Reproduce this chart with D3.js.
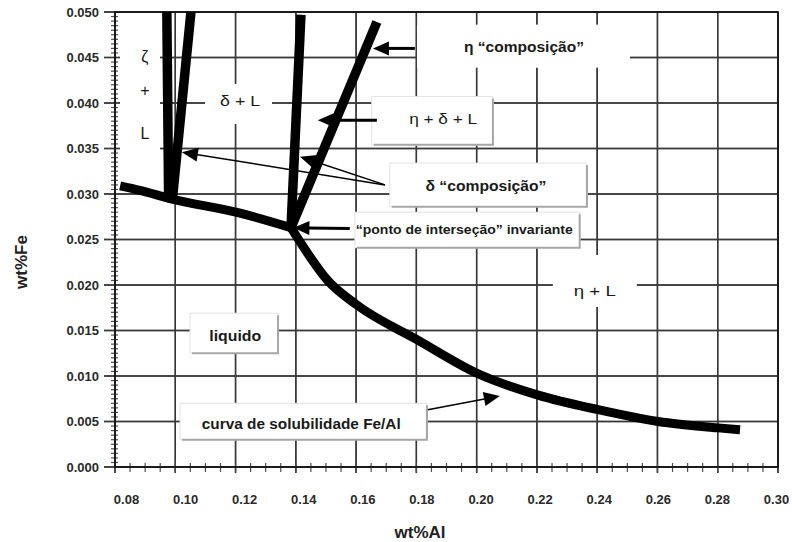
<!DOCTYPE html>
<html>
<head>
<meta charset="utf-8">
<script src="https://cdn.jsdelivr.net/npm/d3@7"></script>
<style>
body{margin:0;background:#fff}
svg{display:block;font-family:"Liberation Sans",Arial,sans-serif}
</style>
</head>
<body>
<svg width="792" height="542"></svg>
<script>
'use strict';
// values (x = wt%Al, y = wt%Fe)
let aXTicks = [0.08,0.10,0.12,0.14,0.16,0.18,0.20,0.22,0.24,0.26,0.28,0.30]
let aYTicks = [0.000,0.005,0.010,0.015,0.020,0.025,0.030,0.035,0.040,0.045,0.050]

// liquidus on the zeta / delta side, ends at the invariant point
let aLiqLeft = [[0.0817,0.0309],[0.0883,0.0304],[0.0982,0.0295],[0.1215,0.0279],[0.1384,0.0263]]
// liquidus on the eta side (Fe/Al solubility curve)
let aLiqEta = [[0.1384,0.0263],[0.1447,0.0231],[0.1503,0.0206],[0.1603,0.0178],[0.1802,0.0140],
	[0.2001,0.0103],[0.2204,0.0079],[0.2403,0.0063],[0.2602,0.0050],[0.2801,0.0043],[0.2874,0.0041]]
// phase boundaries
let aZetaA = [[0.0972,0.0500],[0.0978,0.0295]]
let aZetaB = [[0.1052,0.0500],[0.0991,0.0296]]
let aDelta = [[0.1417,0.0497],[0.1384,0.0263]]
let aEta = [[0.1669,0.0489],[0.1384,0.0263]]

let aZetaStack = ["ζ","+","L"]
let aNotes = ["δ + L","η “composição”","η + δ + L","δ “composição”",
	"“ponto de interseção” invariante","η + L","liquido","curva de solubilidade Fe/Al"]

// layout of the notes: box [x0,y0,x1,y1] and text centre, in data units
let lNotes = [
	{box:[0.1099,0.0421,0.1321,0.0377], at:[0.1215,0.0403], size:15, len:40, bold:false, shadow:false},
	{box:[0.1802,0.0486,0.2508,0.0439], at:[0.2157,0.0461], size:14, len:120, bold:true, shadow:false},
	{box:[0.1652,0.0407,0.2054,0.0354], at:[0.1889,0.0383], size:15, len:68, bold:false, shadow:true},
	{box:[0.1712,0.0334,0.2366,0.0286], at:[0.2031,0.0309], size:14, len:121, bold:true, shadow:true},
	{box:[0.1596,0.0280,0.2342,0.0241], at:[0.1959,0.0261], size:13, len:217, bold:true, shadow:true},
	{box:[0.2253,0.0233,0.2531,0.0176], at:[0.2392,0.0194], size:15, len:42, bold:false, shadow:false},
	{box:[0.1049,0.0169,0.1341,0.0125], at:[0.1199,0.0144], size:15, len:52, bold:true, shadow:true},
	{box:[0.1016,0.0070,0.1835,0.0030], at:[0.1418,0.0048], size:15, len:199, bold:true, shadow:true}]
let lZeta = {box:[0.0817,0.0497,0.0949,0.0313], x:0.0899, ys:[0.0451,0.0414,0.0367]}
let lArrows = [
	{from:[0.1795,0.0460], to:[0.1656,0.0460], w:3},
	{from:[0.1669,0.0381], to:[0.1473,0.0381], w:3},
	{from:[0.1696,0.0310], to:[0.1022,0.0346], w:1.5},
	{from:[0.1696,0.0310], to:[0.1414,0.0341], w:1.5},
	{from:[0.1579,0.0262], to:[0.1392,0.0263], w:3},
	{from:[0.1838,0.0063], to:[0.2077,0.0078], w:1.5}]

let eSvg = d3.select("svg"),
	dWidth = +eSvg.attr("width"),
	dHeight = +eSvg.attr("height")
let dM = {top:12, right:14, bottom:75, left:115}

let sX = d3.scaleLinear().domain([0.08,0.30]).range([dM.left, dWidth-dM.right])
let sY = d3.scaleLinear().domain([0,0.05]).range([dHeight-dM.bottom, dM.top])
// the tick labels drift off the grid a bit in the original
let sXLab = sX.copy().range([dM.left+11, dWidth-dM.right-2])
let dY0 = sY(0)

function rectOf(b) {
	return {x:sX(b[0]), y:sY(b[1]), w:sX(b[2])-sX(b[0]), h:sY(b[3])-sY(b[1])}}
let aBoxRects = lNotes.map(n=>n.box).concat([lZeta.box]).map(rectOf)

// grid, cut around the note boxes; major ticks cross the axes
function cutAround(a0, a1, gaps) {
	let segs = [], cur = a0
	gaps.sort((p,q)=>p[0]-q[0]).forEach(g => {
		if (g[0] > cur) segs.push([cur, Math.min(g[0], a1)])
		cur = Math.max(cur, g[1])})
	if (cur < a1) segs.push([cur, a1])
	return segs}
let aGridH = aYTicks.flatMap(v => {
	let py = sY(v)
	let gaps = aBoxRects.filter(r => r.y < py && py < r.y+r.h).map(r => [r.x, r.x+r.w])
	return cutAround(dM.left-11, dWidth-dM.right, gaps).map(s => ({x:s[0], y:py-0.7, w:s[1]-s[0], h:1.4}))})
let aGridV = aXTicks.flatMap(v => {
	let px = sX(v)
	let gaps = aBoxRects.filter(r => r.x < px && px < r.x+r.w).map(r => [r.y, r.y+r.h])
	return cutAround(dM.top, dY0+6, gaps).map(s => ({x:px-0.7, y:s[0], w:1.4, h:s[1]-s[0]}))})
let aGrid = aGridH.concat(aGridV)
// drawn as thin filled bars, with a matching stroked line on top
let eGrid = eSvg.append("g")
eGrid.selectAll("rect").data(aGrid).enter().append("rect")
	.attr("x",d=>d.x).attr("y",d=>d.y).attr("width",d=>d.w).attr("height",d=>d.h)
	.attr("fill","#383838")
eGrid.selectAll("path").data(aGrid).enter().append("path")
	.attr("d",d=> d.h > d.w
		? `M${d.x+0.7},${d.y}V${d.y+d.h}`
		: `M${d.x},${d.y+0.7}H${d.x+d.w}`)
	.attr("fill","none").attr("stroke","#383838").attr("stroke-width",1.4)

// minor ticks
let aMinorX = d3.range(0.085,0.30,0.005)
let aMinorY = d3.range(1,100).filter(i=>i%10).map(i=>i*0.0005)
let eMinor = eSvg.append("g")
eMinor.selectAll("rect.mx").data(aMinorX).enter().append("rect")
	.attr("x",d=>sX(d)-0.6).attr("y",dY0-4).attr("width",1.2).attr("height",9)
	.attr("fill","#505050")
eMinor.selectAll("rect.my").data(aMinorY).enter().append("rect")
	.attr("class","my")
	.attr("x",dM.left-4).attr("y",d=>sY(d)-0.6).attr("width",7).attr("height",1.2)
	.attr("fill","#505050")

// note boxes
eSvg.append("g").selectAll("rect").data(aBoxRects).enter().append("rect")
	.attr("x",r=>r.x).attr("y",r=>r.y).attr("width",r=>r.w).attr("height",r=>r.h)
	.attr("fill","#fff")
let eShadow = eSvg.append("g")
eShadow.selectAll("rect").data(lNotes.filter(n=>n.shadow)).enter().append("rect")
	.attr("x",n=>rectOf(n.box).x).attr("y",n=>rectOf(n.box).y)
	.attr("width",n=>rectOf(n.box).w).attr("height",n=>rectOf(n.box).h)
	.attr("fill","none").attr("stroke","#e2e2e2").attr("stroke-width",1)
eShadow.selectAll("path").data(lNotes.filter(n=>n.shadow)).enter().append("path")
	.attr("d",n=>{let r = rectOf(n.box)
		return `M${r.x+r.w},${r.y+2}V${r.y+r.h}H${r.x+2}`})
	.attr("fill","none").attr("stroke","#a6a6a6").attr("stroke-width",2)

// frame
eSvg.append("rect")
	.attr("x",dM.left).attr("y",dM.top)
	.attr("width",dWidth-dM.left-dM.right).attr("height",dY0-dM.top)
	.attr("fill","none").attr("stroke","#111").attr("stroke-width",1.6)

// curves
let fLine = d3.line().x(d=>sX(d[0])).y(d=>sY(d[1]))
let fCurve = d3.line().x(d=>sX(d[0])).y(d=>sY(d[1])).curve(d3.curveMonotoneX)
let eCurves = eSvg.append("g")
eCurves.append("path").attr("d",fCurve(aLiqLeft)).attr("stroke-linejoin","round")
eCurves.append("path").attr("d",fCurve(aLiqEta))
eCurves.selectAll("path.ph").data([aZetaA,aZetaB,aDelta,aEta]).enter().append("path")
	.attr("d",d=>fLine(d)).attr("stroke-width",9.5)
eCurves.selectAll("path").attr("fill","none").attr("stroke","#000")
	.attr("stroke-width",function() {return this.getAttribute("stroke-width") || 9})

// arrows: shaft plus a filled head whose tip sits on the target
function arrowGeom(a) {
	let x1 = sX(a.from[0]), y1 = sY(a.from[1]), x2 = sX(a.to[0]), y2 = sY(a.to[1])
	let l = Math.hypot(x2-x1, y2-y1), ux = (x2-x1)/l, uy = (y2-y1)/l
	let bx = x2-ux*16, by = y2-uy*16
	return {x1, y1, ex:bx+ux*3, ey:by+uy*3,
		head:`M${x2},${y2}L${bx-uy*7},${by+ux*7}L${bx+uy*7},${by-ux*7}Z`}}
let eArrows = eSvg.append("g")
eArrows.selectAll("line").data(lArrows).enter().append("line")
	.attr("x1",a=>arrowGeom(a).x1).attr("y1",a=>arrowGeom(a).y1)
	.attr("x2",a=>arrowGeom(a).ex).attr("y2",a=>arrowGeom(a).ey)
	.attr("stroke","#000").attr("stroke-width",a=>a.w)
eArrows.selectAll("path").data(lArrows).enter().append("path")
	.attr("d",a=>arrowGeom(a).head).attr("fill","#000")

// notes
eSvg.append("g").selectAll("text").data(aNotes).enter().append("text")
	.attr("x",(t,i)=>sX(lNotes[i].at[0])).attr("y",(t,i)=>sY(lNotes[i].at[1]))
	.attr("dy","0.35em").attr("text-anchor","middle")
	.attr("font-size",(t,i)=>lNotes[i].size)
	.attr("font-weight",(t,i)=>lNotes[i].bold ? "bold" : "normal")
	.attr("textLength",(t,i)=>lNotes[i].len).attr("lengthAdjust","spacingAndGlyphs")
	.attr("fill","#1a1a1a")
	.text(t=>t)
eSvg.append("g").selectAll("text").data(aZetaStack).enter().append("text")
	.attr("x",sX(lZeta.x)).attr("y",(t,i)=>sY(lZeta.ys[i]))
	.attr("dy","0.35em").attr("text-anchor","middle")
	.attr("font-size",16).attr("fill","#1a1a1a")
	.text(t=>t)

// axes: labels only, lines are drawn separately
let eYAxis = eSvg.append("g").attr("transform",`translate(${dM.left},0)`)
	.call(d3.axisLeft(sY).tickValues(aYTicks).tickFormat(d3.format(".3f")).tickSize(0).tickPadding(16))
let eXAxis = eSvg.append("g").attr("transform",`translate(0,${dY0})`)
	.call(d3.axisBottom(sXLab).tickValues(aXTicks).tickFormat(d3.format(".2f")).tickSize(0).tickPadding(28))
for (let g of [eYAxis, eXAxis]) {
	g.select(".domain").remove()
	g.selectAll("text").attr("font-size",13).attr("font-weight","bold")
		.attr("fill","#2a2a2a").attr("font-family","Liberation Sans, Arial, sans-serif")}

eSvg.append("text").attr("x",420).attr("y",538).attr("text-anchor","middle")
	.attr("font-size",17).attr("font-weight","bold").attr("fill","#222").text("wt%Al")
eSvg.append("text").attr("transform","translate(27,262) rotate(-90)").attr("text-anchor","middle")
	.attr("font-size",17).attr("font-weight","bold").attr("fill","#222").text("wt%Fe")
</script>
</body>
</html>
